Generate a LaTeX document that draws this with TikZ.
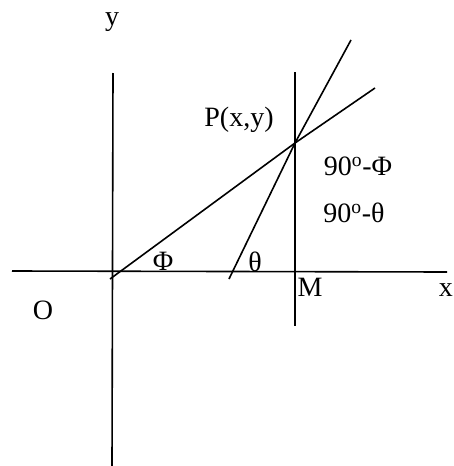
\documentclass[tikz,border=0pt]{standalone}
\usepackage{fontspec}
\setmainfont{Liberation Serif}
\begin{document}
\begin{tikzpicture}[x=1pt,y=-1pt,
  ln/.style={line width=1.6pt,black},
  lbl/.style={inner sep=0pt,font=\fontsize{28}{30}\selectfont}]
\useasboundingbox[fill=white] (0,0) rectangle (453,466);
% axes
\coordinate (xl) at (12,271);
\coordinate (xr) at (447,272);
\coordinate (yt) at (113,73);
\coordinate (yb) at (112,466);
\coordinate (mt) at (295,72);
\coordinate (mb) at (295,326);
\coordinate (P) at (295,143);
\coordinate (a1) at (110,279);
\coordinate (a2) at (375,88);
\coordinate (b1) at (229,279);
\coordinate (b2) at (351,40);
\draw[ln] (xl) -- (xr);
\draw[ln] (yt) -- (yb);
\draw[ln] (mt) -- (mb);
\draw[ln] (a1) -- (P) -- (a2);
\draw[ln] (b1) -- (P) -- (b2);
% labels
\node[lbl] (ylab) at (112,22) {y};
\node[lbl] (plab) at (239,120) {P(x,y)};
\node[lbl] (phi90) at (358,166) {90\textsuperscript{o}-Φ};
\node[lbl] (th90) at (354,213) {90\textsuperscript{o}-θ};
\node[lbl] (phi) at (163,261) {Φ};
\node[lbl] (th) at (255,262) {θ};
\node[lbl] (M) at (310,287) {M};
\node[lbl,anchor=east] (xlab) at (453,290) {x};
\node[lbl] (O) at (43,310) {O};
\end{tikzpicture}
\end{document}
